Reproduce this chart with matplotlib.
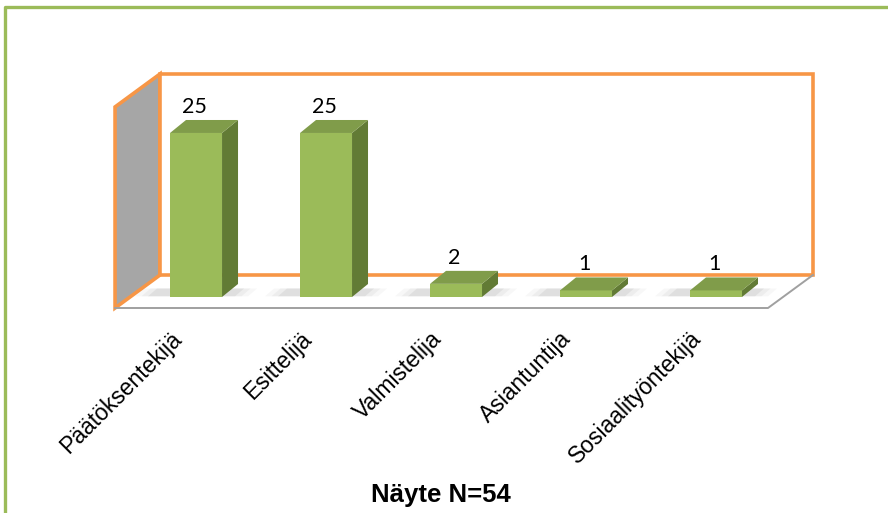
import matplotlib.pyplot as plt
from matplotlib.patches import Polygon
from matplotlib.lines import Line2D

# data
categories = ["Päätöksentekijä", "Esittelijä", "Valmistelija", "Asiantuntija", "Sosiaalityöntekijä"]
values = [25, 25, 2, 1, 1]
title = "Näyte N=54"

# colours
green = "#9BBB59"
green_top = "#809C4A"
green_side = "#627B35"
orange = "#F79646"
wall_gray = "#A6A6A6"

fig = plt.figure(figsize=(8.88, 5.13), dpi=100)
ax = fig.add_axes([0, 0, 1, 1])
ax.set_xlim(-1.508, 5.323)
ax.set_ylim(-32.93, 45.27)
ax.axis("off")

# fake 3d geometry (data units)
bw = 0.4              # bar front width
bdx, bdy = 0.123, 1.98  # bar depth offset
fx0, fx1, fy = -0.623, 4.4, -1.68   # floor front edge
fdx, fdy = 0.346, 5.03              # floor depth offset
wall_h = 30.65

# floor
floor = Polygon([(fx0, fy), (fx1, fy), (fx1 + fdx, fy + fdy), (fx0 + fdx, fy + fdy)],
                closed=True, facecolor="white", edgecolor="none", zorder=0.5)
ax.add_patch(floor)
ax.plot([fx0, fx1, fx1 + fdx], [fy, fy, fy + fdy], color="#A0A0A0", lw=1.4, zorder=3)

# side wall
side = Polygon([(fx0, fy), (fx0, fy + wall_h), (fx0 + fdx, fy + fdy + wall_h), (fx0 + fdx, fy + fdy)],
               closed=True, facecolor=wall_gray, edgecolor=orange, lw=2.6, zorder=1)
ax.add_patch(side)
# back wall
back = Polygon([(fx0 + fdx, fy + fdy), (fx1 + fdx, fy + fdy), (fx1 + fdx, fy + fdy + wall_h),
                (fx0 + fdx, fy + fdy + wall_h)],
               closed=True, facecolor="white", edgecolor=orange, lw=2.6, zorder=1)
ax.add_patch(back)

# shadows
for i, v in enumerate(values):
    for k, a in enumerate([0.06, 0.08, 0.12]):
        g = 0.05 * (3 - k)
        sh = Polygon([(i - bw / 2 - 0.12 - g, 0.1), (i + bw / 2 + 0.05 + g, 0.1),
                      (i + bw / 2 + 0.12 + g, 1.3), (i - bw / 2 - 0.05 - g, 1.3)],
                     closed=True, facecolor="#808080", edgecolor="none", alpha=a, zorder=4)
        ax.add_patch(sh)

# bars
x = list(range(len(values)))
ax.bar(x, values, width=bw, color=green, edgecolor="none", zorder=6)
for i, v in enumerate(values):
    r = i + bw / 2
    l = i - bw / 2
    ax.add_patch(Polygon([(r, 0), (r + bdx, bdy), (r + bdx, v + bdy), (r, v)],
                         closed=True, facecolor=green_side, edgecolor="none", zorder=5))
    ax.add_patch(Polygon([(l, v), (r, v), (r + bdx, v + bdy), (l + bdx, v + bdy)],
                         closed=True, facecolor=green_top, edgecolor="none", zorder=7))
    ax.text(i - 0.015, v + bdy + 1.1, str(v), ha="center", va="baseline",
            fontsize=15.5, family="Lato", zorder=8)

# category labels
for i, c in enumerate(categories):
    ax.text(i - 0.077, -4.6, c, rotation=45, ha="right", va="top",
            fontsize=16.5, family="Liberation Sans")

ax.text(1.885, -31.25, title, ha="center", va="baseline", fontsize=18.5,
        fontweight="bold", family="Liberation Sans")

# outer green frame (left and top only visible)
fig.add_artist(Line2D([5 / 888, 5 / 888, 1], [0, 1 - 7 / 513, 1 - 7 / 513],
                      transform=fig.transFigure, color=green, lw=2.4))

plt.savefig("out.png", dpi=100)
